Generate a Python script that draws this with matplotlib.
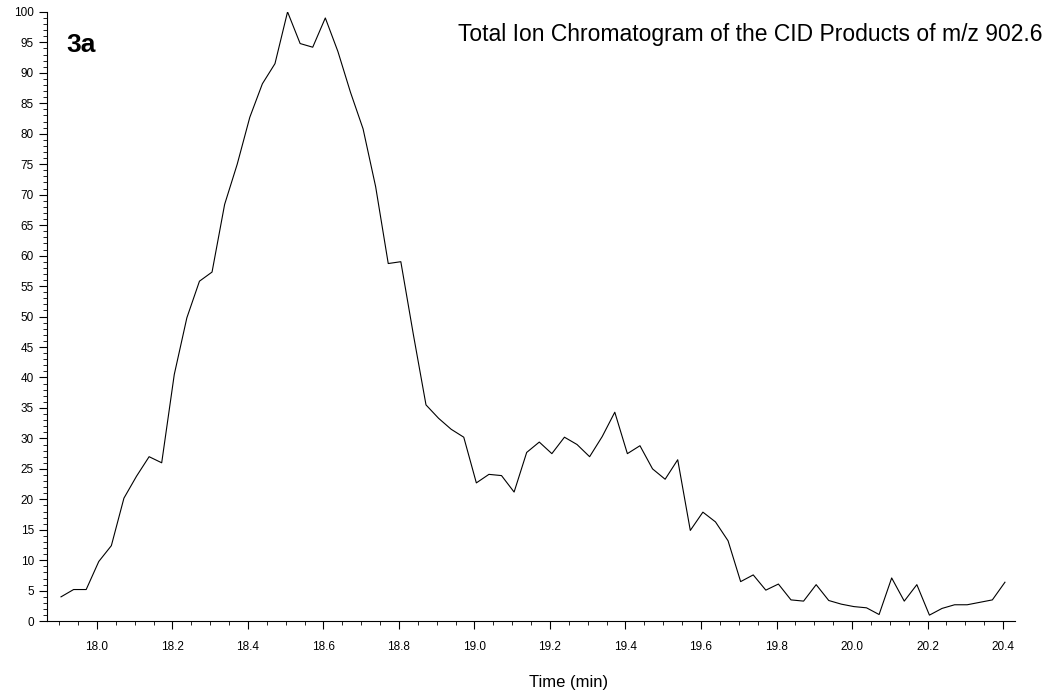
import matplotlib
matplotlib.use("Agg")
import matplotlib.pyplot as plt
import numpy as np
from matplotlib.ticker import MultipleLocator

plt.rcParams["font.family"] = ["Liberation Sans", "DejaVu Sans"]

# scan times (min), evenly spaced acquisitions
time_min = np.linspace(17.905, 20.405, 76)
intensity = [
    4.0, 5.2, 5.2, 9.8, 12.4, 20.2, 23.8, 27.0, 26.0, 40.5,
    49.8, 55.8, 57.3, 68.4, 75.0, 82.7, 88.2, 91.5, 100.0, 94.8,
    94.2, 99.0, 93.5, 86.8, 80.8, 71.3, 58.7, 59.0, 47.0, 35.5,
    33.3, 31.5, 30.2, 22.7, 24.1, 23.9, 21.2, 27.7, 29.4, 27.5,
    30.2, 29.0, 27.0, 30.3, 34.3, 27.5, 28.8, 25.0, 23.3, 26.5,
    14.9, 17.9, 16.3, 13.2, 6.5, 7.6, 5.1, 6.1, 3.5, 3.3,
    6.0, 3.4, 2.8, 2.4, 2.2, 1.1, 7.1, 3.3, 6.0, 1.0,
    2.1, 2.7, 2.7, 3.1, 3.5, 6.4,
]

fig = plt.figure(figsize=(10.5, 6.98), dpi=100)
ax = fig.add_axes([0.0448, 0.110, 0.922, 0.873])
ax.plot(time_min, intensity, color="black", linewidth=0.8)

ax.set_xlim(17.868, 20.432)
ax.set_ylim(0, 100)
ax.xaxis.set_major_locator(MultipleLocator(0.2))
ax.xaxis.set_minor_locator(MultipleLocator(0.05))
ax.yaxis.set_major_locator(MultipleLocator(5))
ax.yaxis.set_minor_locator(MultipleLocator(1))
ax.xaxis.set_major_formatter(plt.FormatStrFormatter("%.1f"))
ax.tick_params(axis="both", which="major", direction="out", length=6, labelsize=8.5)
ax.tick_params(axis="both", which="minor", direction="out", length=3)
ax.tick_params(axis="x", which="major", pad=8)
for s in ("top", "right"):
    ax.spines[s].set_visible(False)

ax.set_xlabel("Time (min)", fontsize=12)
ax.xaxis.set_label_coords(569 / 1050, 1 - 683 / 698, transform=fig.transFigure)
ax.xaxis.label.set_va("center")
fig.text(0.063, 1 - 45 / 698, "3a", fontsize=19, fontweight="bold", va="center")
fig.text(0.993, 1 - 35 / 698, "Total Ion Chromatogram of the CID Products of m/z 902.6",
         fontsize=16.5, ha="right", va="center")

fig.savefig("out.png", dpi=100)
